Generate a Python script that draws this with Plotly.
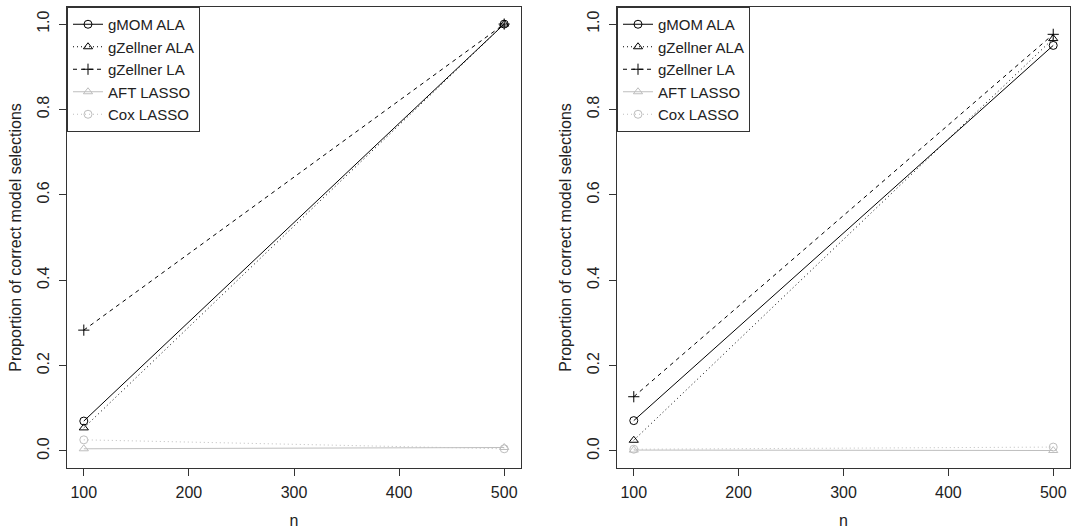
import plotly.graph_objects as go

n_values = [100, 500]

series_names = ["gMOM ALA", "gZellner ALA", "gZellner LA", "AFT LASSO", "Cox LASSO"]

left_values = {
    "gMOM ALA": [0.070, 1.000],
    "gZellner ALA": [0.054, 1.000],
    "gZellner LA": [0.283, 1.000],
    "AFT LASSO": [0.005, 0.008],
    "Cox LASSO": [0.026, 0.005],
}

right_values = {
    "gMOM ALA": [0.071, 0.950],
    "gZellner ALA": [0.025, 0.966],
    "gZellner LA": [0.127, 0.976],
    "AFT LASSO": [0.002, 0.001],
    "Cox LASSO": [0.004, 0.009],
}

x_ticks = [100, 200, 300, 400, 500]
y_ticks = [0.0, 0.2, 0.4, 0.6, 0.8, 1.0]
y_tick_labels = ["0.0", "0.2", "0.4", "0.6", "0.8", "1.0"]

GREY = "#BEBEBE"
styles = {
    "gMOM ALA": dict(color="black", dash="solid", symbol="circle-open"),
    "gZellner ALA": dict(color="black", dash="1px,3px", symbol="triangle-up-open"),
    "gZellner LA": dict(color="black", dash="4px,4px", symbol="cross-thin-open"),
    "AFT LASSO": dict(color=GREY, dash="solid", symbol="triangle-up-open"),
    "Cox LASSO": dict(color=GREY, dash="1px,3px", symbol="circle-open"),
}

W, H = 1075, 532
FONT = "Liberation Sans, Arial, Helvetica, sans-serif"
TXT = "#222222"

fig = go.Figure()

for panel, values in ((1, left_values), (2, right_values)):
    for name in series_names:
        st = styles[name]
        fig.add_trace(go.Scatter(
            x=n_values, y=values[name], name=name,
            mode="lines+markers",
            xaxis="x" if panel == 1 else "x2",
            yaxis="y" if panel == 1 else "y2",
            legend="legend" if panel == 1 else "legend2",
            line=dict(color=st["color"], dash=st["dash"], width=1),
            marker=dict(symbol=st["symbol"], size=8,
                        color=st["color"],
                        line=dict(color=st["color"], width=1)),
        ))

ydom = [(H - 468) / H, (H - 7) / H]
xdom1 = [67 / W, 521 / W]
xdom2 = [617 / W, 1070 / W]

axis_common = dict(
    showline=True, linecolor="#333333", linewidth=1, mirror=True,
    showgrid=False, zeroline=False, ticks="outside", ticklen=7,
    tickcolor="#333333", tickwidth=1,
    tickfont=dict(family=FONT, size=16, color=TXT),
)

xa = dict(axis_common, range=[84, 516], tickvals=x_ticks, ticklabelstandoff=3,
          title=dict(text="n", font=dict(family=FONT, size=16, color=TXT), standoff=14))
ya = dict(axis_common, range=[-0.04, 1.04], tickvals=y_ticks, ticktext=y_tick_labels,
          tickangle=-90, ticklabelstandoff=4,
          title=dict(text="Proportion of correct model selections",
                     font=dict(family=FONT, size=16, color=TXT), standoff=8))

legend_common = dict(
    bgcolor="white", bordercolor="#333333", borderwidth=1,
    font=dict(family=FONT, size=15, color=TXT),
    xanchor="left", yanchor="top", tracegroupgap=0,
)

fig.update_layout(
    width=W, height=H,
    margin=dict(l=0, r=0, t=0, b=0),
    paper_bgcolor="white", plot_bgcolor="white",
    xaxis=dict(xa, domain=xdom1, anchor="y"),
    yaxis=dict(ya, domain=ydom, anchor="x"),
    xaxis2=dict(xa, domain=xdom2, anchor="y2"),
    yaxis2=dict(ya, domain=ydom, anchor="x2"),
    legend=dict(legend_common, x=xdom1[0], y=ydom[1]),
    legend2=dict(legend_common, x=xdom2[0], y=ydom[1]),
    showlegend=True,
)

fig.write_html("out.html", config={"displayModeBar": False},
               post_script="document.body.style.margin='0';")
